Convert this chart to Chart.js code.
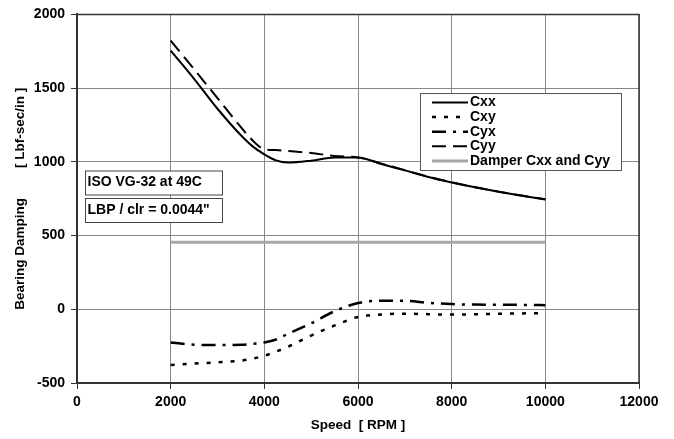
<!DOCTYPE html>
<html>
<head>
<meta charset="utf-8">
<script src="https://cdn.jsdelivr.net/npm/chart.js@4.4.1/dist/chart.umd.min.js"></script>
<style>
  html, body { margin: 0; padding: 0; background: #fff; }
  #wrap { width: 674px; height: 439px; position: relative; }
</style>
</head>
<body>
<div id="wrap"><canvas id="chart_bearingDamping"></canvas></div>
<script>
// speed [RPM]
var speeds = [2000, 2500, 3000, 3500, 3750, 4000, 4250, 4500, 5000, 5500, 6000, 6500, 7000, 7500, 8000, 8500, 9000, 9500, 10000];
// damping [Lbf-sec/in]
var cxx = [1755, 1563, 1360, 1180, 1105, 1051, 1010, 995, 1008, 1030, 1030, 985, 942, 897, 860, 827, 797, 770, 745];
var cxy = [-378, -368, -360, -348, -335, -315, -287, -255, -178, -110, -52, -35, -30, -33, -36, -34, -31, -28, -26];
var cyx = [-225, -240, -243, -240, -235, -225, -205, -167, -95, -13, 42, 58, 57, 44, 35, 32, 31, 30, 28];
var cyy = [1822, 1628, 1432, 1235, 1145, 1086, 1080, 1074, 1060, 1040, 1030, 988, 944, 899, 862, 828, 798, 771, 746];
var damper = [454, 454, 454, 454, 454, 454, 454, 454, 454, 454, 454, 454, 454, 454, 454, 454, 454, 454, 454];

var seriesNames = ['Cxx', 'Cxy', 'Cyx', 'Cyy', 'Damper Cxx and Cyy'];
var noteLines = ['ISO VG-32 at 49C', 'LBP / clr = 0.0044"'];

var FONT = '"Liberation Sans", Arial, sans-serif';

function pts(vals) {
    return speeds.map(function (s, i) { return { x: s, y: vals[i] }; });
}

var chart_bearingDamping = new Chart(document.getElementById('chart_bearingDamping'), {
    type: 'line',
    data: {
        datasets: [
            { label: seriesNames[0], data: pts(cxx), borderColor: '#000', borderWidth: 2, borderDash: [] },
            { label: seriesNames[1], data: pts(cxy), borderColor: '#000', borderWidth: 2.5, borderDash: [4, 8] },
            { label: seriesNames[2], data: pts(cyx), borderColor: '#000', borderWidth: 2.5, borderDash: [14, 7, 3, 7] },
            { label: seriesNames[3], data: pts(cyy), borderColor: '#000', borderWidth: 2, borderDash: [14, 7] },
            { label: seriesNames[4], data: pts(damper), borderColor: '#a8a8a8', borderWidth: 3, borderDash: [] }
        ]
    },
    options: {
        animation: false,
        responsive: true,
        maintainAspectRatio: false,
        layout: { padding: { top: 12, right: 35, left: 0, bottom: 0 } },
        elements: {
            point: { radius: 0 },
            line: { cubicInterpolationMode: 'monotone', fill: false, borderCapStyle: 'butt' }
        },
        plugins: {
            legend: { display: false },
            tooltip: { enabled: false }
        },
        scales: {
            x: {
                type: 'linear',
                min: 0,
                max: 12000,
                afterFit: function (scale) { scale.height = 56; },
                ticks: {
                    stepSize: 2000,
                    padding: 5,
                    color: '#000',
                    maxRotation: 0,
                    callback: function (v) { return String(v); },
                    font: { family: FONT, size: 14, weight: 'bold' }
                },
                grid: { color: '#888', tickColor: '#333', tickLength: 6 },
                border: { color: '#333', width: 2 },
                title: {
                    display: true,
                    text: 'Speed  [ RPM ]',
                    color: '#000',
                    padding: { top: 0, bottom: 6 },
                    font: { family: FONT, size: 13.5, weight: 'bold' }
                }
            },
            y: {
                min: -500,
                max: 2000,
                afterFit: function (scale) { scale.width = 77; },
                ticks: {
                    stepSize: 500,
                    padding: 6,
                    color: '#000',
                    callback: function (v) { return String(v); },
                    font: { family: FONT, size: 14, weight: 'bold' }
                },
                grid: { color: '#888', tickColor: '#333', tickLength: 6 },
                border: { color: '#333', width: 2 },
                title: {
                    display: true,
                    text: 'Bearing Damping        [ Lbf-sec/in ]',
                    color: '#000',
                    padding: { top: 12, bottom: 0 },
                    font: { family: FONT, size: 13.5, weight: 'bold' }
                }
            }
        }
    },
    plugins: [{
        id: 'frameNotesLegend',
        beforeDraw: function (chart) {
            var ctx = chart.ctx;
            ctx.save();
            ctx.fillStyle = 'white';
            ctx.fillRect(0, 0, chart.width, chart.height);
            ctx.restore();
        },
        afterDatasetsDraw: function (chart) {
            var ctx = chart.ctx;
            var a = chart.chartArea;
            ctx.save();
            // top / right frame
            ctx.strokeStyle = '#333';
            ctx.lineWidth = 1.5;
            ctx.beginPath();
            ctx.moveTo(a.left, a.top);
            ctx.lineTo(a.right, a.top);
            ctx.lineTo(a.right, a.bottom);
            ctx.stroke();

            // note boxes
            ctx.font = 'bold 14px ' + FONT;
            ctx.textBaseline = 'middle';
            ctx.textAlign = 'left';
            var boxes = [[85.5, 171, 137, 24], [85.5, 198.5, 137, 24]];
            boxes.forEach(function (b, i) {
                ctx.fillStyle = '#fff';
                ctx.fillRect(b[0], b[1], b[2], b[3]);
                ctx.strokeStyle = '#444';
                ctx.lineWidth = 1;
                ctx.strokeRect(b[0], b[1], b[2], b[3]);
                ctx.fillStyle = '#000';
                ctx.fillText(noteLines[i], b[0] + 2, b[1] + 11.5);
            });

            // legend
            var lx = 420.5, ly = 93.5, lw = 201, lh = 77;
            ctx.fillStyle = '#fff';
            ctx.fillRect(lx, ly, lw, lh);
            ctx.strokeStyle = '#555';
            ctx.lineWidth = 1;
            ctx.strokeRect(lx, ly, lw, lh);
            chart.data.datasets.forEach(function (ds, i) {
                var y = 102.5 + i * 14.6;
                ctx.save();
                ctx.strokeStyle = ds.borderColor;
                ctx.lineWidth = ds.borderWidth;
                ctx.setLineDash(ds.borderDash || []);
                ctx.beginPath();
                ctx.moveTo(432, y);
                ctx.lineTo(468, y);
                ctx.stroke();
                ctx.restore();
                ctx.fillStyle = '#000';
                ctx.fillText(ds.label, 470, y);
            });
            ctx.restore();
        }
    }]
});
</script>
</body>
</html>
